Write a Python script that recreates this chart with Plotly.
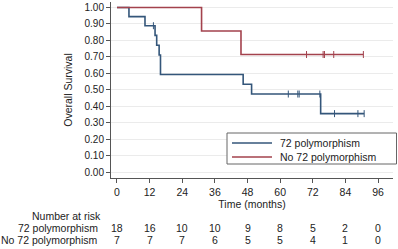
import plotly.graph_objects as go

# Kaplan-Meier step data (months, survival)
blue_name = "72 polymorphism"
blue_t = [0, 4.4, 10.3, 14.0, 14.6, 15.5, 16.0, 46.4, 49.5, 74.9, 90.9]
blue_s = [1.0, 0.944, 0.889, 0.830, 0.770, 0.711, 0.593, 0.533, 0.474, 0.355, 0.355]
blue_cens_t = [13.4, 63.0, 66.5, 67.0, 74.6, 80.0, 88.6, 90.9]
blue_cens_s = [0.889, 0.474, 0.474, 0.474, 0.474, 0.355, 0.355, 0.355]

red_name = "No 72 polymorphism"
red_t = [0, 31.1, 45.6, 90.6]
red_s = [1.0, 0.857, 0.714, 0.714]
red_cens_t = [69.7, 75.8, 76.3, 79.7, 90.6]
red_cens_s = [0.714, 0.714, 0.714, 0.714, 0.714]

risk_times = [0, 12, 24, 36, 48, 60, 72, 84, 96]
risk_blue = [18, 16, 10, 10, 9, 8, 5, 2, 0]
risk_red = [7, 7, 7, 6, 5, 5, 4, 1, 0]

y_ticks = [i / 10 for i in range(11)]

BLUE = "#34567A"
RED = "#A3424D"
FONT = "Liberation Sans, Arial, sans-serif"

# plot area in pixels
L, R, T, B = 111, 393, 2, 178
W, H = 398, 249


def px(xp):
    return (xp - L) / (R - L)


def py(yp):
    return (B - yp) / (B - T)


fig = go.Figure()
fig.add_trace(go.Scatter(x=blue_t, y=blue_s, mode="lines", line=dict(shape="hv", color=BLUE, width=1.6),
                         name=blue_name, showlegend=False))
fig.add_trace(go.Scatter(x=red_t, y=red_s, mode="lines", line=dict(shape="hv", color=RED, width=1.6),
                         name=red_name, showlegend=False))
fig.add_trace(go.Scatter(x=blue_cens_t, y=blue_cens_s, mode="markers", showlegend=False,
                         marker=dict(symbol="line-ns", size=5, color=BLUE, line=dict(color=BLUE, width=1))))
fig.add_trace(go.Scatter(x=red_cens_t, y=red_cens_s, mode="markers", showlegend=False,
                         marker=dict(symbol="line-ns", size=5, color=RED, line=dict(color=RED, width=1))))

TXT = dict(size=10.5, color="#222")
annotations = []
annotations.append(dict(text="Number at risk", xref="paper", yref="paper", x=px(103), y=py(215.5),
                        xanchor="right", yanchor="middle", showarrow=False, font=TXT))
annotations.append(dict(text=blue_name, xref="paper", yref="paper", x=px(100), y=py(228),
                        xanchor="right", yanchor="middle", showarrow=False, font=TXT))
annotations.append(dict(text=red_name, xref="paper", yref="paper", x=px(100), y=py(240.5),
                        xanchor="right", yanchor="middle", showarrow=False, font=TXT))
for t, nb, nr in zip(risk_times, risk_blue, risk_red):
    annotations.append(dict(text=str(nb), xref="x", yref="paper", x=t, y=py(228),
                            xanchor="center", yanchor="middle", showarrow=False, font=TXT))
    annotations.append(dict(text=str(nr), xref="x", yref="paper", x=t, y=py(240.5),
                            xanchor="center", yanchor="middle", showarrow=False, font=TXT))

# legend box (drawn manually to match compact spacing)
shapes = [
    dict(type="rect", xref="paper", yref="paper", x0=px(227), x1=px(396.5), y0=py(164), y1=py(133),
         line=dict(color="#666", width=1), fillcolor="white", layer="above"),
]
for name, col, yp in [(blue_name, BLUE, 143), (red_name, RED, 157)]:
    shapes.append(dict(type="line", xref="paper", yref="paper", x0=px(232), x1=px(272), y0=py(yp), y1=py(yp),
                       line=dict(color=col, width=1.6), layer="above"))
    annotations.append(dict(text=name, xref="paper", yref="paper", x=px(278), y=py(yp),
                            xanchor="left", yanchor="middle", showarrow=False, font=TXT))

fig.update_layout(
    width=W, height=H,
    margin=dict(l=L, r=W - R, t=T, b=H - B, autoexpand=False),
    paper_bgcolor="white", plot_bgcolor="white",
    font=dict(family=FONT, size=10, color="#222"),
    showlegend=False,
    xaxis=dict(range=[-2.2, 101.5], tickvals=risk_times, ticks="outside", ticklen=4, tickcolor="#555",
               showline=True, linecolor="#555", linewidth=1, showgrid=False, zeroline=False,
               tickfont=dict(size=10.5),
               title=dict(text="Time (months)", standoff=2, font=dict(size=10.5))),
    yaxis=dict(range=[-0.036, 1.033], tickvals=y_ticks, tickformat=".2f", ticks="outside", ticklen=4,
               tickcolor="#555", showline=True, linecolor="#555", linewidth=1,
               showgrid=True, gridcolor="#EBEBEB", gridwidth=1, zeroline=False,
               tickfont=dict(size=10),
               title=dict(text="Overall Survival", standoff=9, font=dict(size=10.5))),
    annotations=annotations,
    shapes=shapes,
)

fig.write_html("out.html", config={"displayModeBar": False},
               post_script="document.body.style.margin='0';document.body.style.overflow='hidden';")
